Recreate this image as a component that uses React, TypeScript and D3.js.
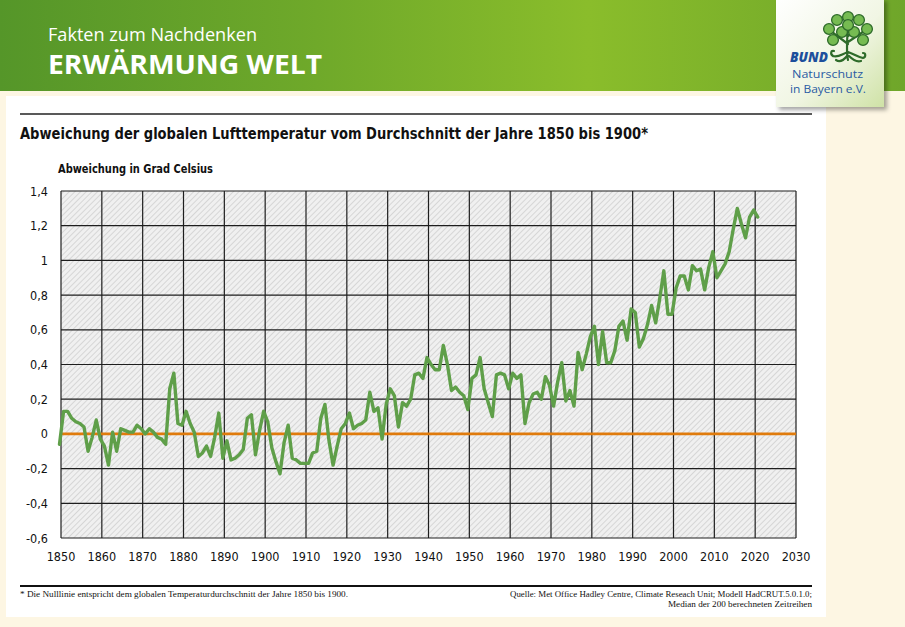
import React from "react";
import * as d3 from "d3";

const startYear = 1850;
const anomalies: number[] = [
  -0.06, 0.13, 0.13, 0.09, 0.07, 0.06, 0.04, -0.10, -0.02, 0.08,
  -0.03, -0.07, -0.18, 0.01, -0.10, 0.03, 0.02, 0.01, 0.01, 0.05,
  0.03, 0.00, 0.03, 0.01, -0.02, -0.03, -0.06, 0.26, 0.35, 0.06,
  0.05, 0.13, 0.06, 0.01, -0.13, -0.11, -0.07, -0.13, -0.02, 0.12,
  -0.14, -0.04, -0.15, -0.14, -0.12, -0.09, 0.09, 0.11, -0.12, 0.02,
  0.13, 0.07, -0.08, -0.16, -0.23, -0.05, 0.05, -0.14, -0.15, -0.17,
  -0.17, -0.17, -0.11, -0.10, 0.09, 0.17, -0.04, -0.18, -0.07, 0.03,
  0.06, 0.12, 0.03, 0.05, 0.06, 0.08, 0.24, 0.13, 0.15, -0.03,
  0.17, 0.26, 0.22, 0.04, 0.18, 0.16, 0.20, 0.34, 0.35, 0.32,
  0.44, 0.40, 0.37, 0.37, 0.51, 0.40, 0.25, 0.27, 0.24, 0.22,
  0.14, 0.32, 0.34, 0.44, 0.26, 0.18, 0.10, 0.34, 0.35, 0.34,
  0.26, 0.35, 0.32, 0.34, 0.06, 0.18, 0.23, 0.24, 0.20, 0.33,
  0.28, 0.16, 0.30, 0.41, 0.19, 0.25, 0.16, 0.47, 0.37, 0.46,
  0.56, 0.62, 0.40, 0.59, 0.41, 0.41, 0.48, 0.62, 0.65, 0.54,
  0.72, 0.70, 0.50, 0.55, 0.63, 0.74, 0.64, 0.78, 0.94, 0.69,
  0.69, 0.84, 0.91, 0.91, 0.83, 0.97, 0.94, 0.95, 0.83, 0.96,
  1.05, 0.90, 0.94, 0.98, 1.05, 1.18, 1.30, 1.21, 1.13, 1.25,
  1.29, 1.25,
];
const xTicks = [1850, 1860, 1870, 1880, 1890, 1900, 1910, 1920, 1930, 1940, 1950, 1960, 1970, 1980, 1990, 2000, 2010, 2020, 2030];
const yTicks = [-0.6, -0.4, -0.2, 0, 0.2, 0.4, 0.6, 0.8, 1, 1.2, 1.4];

const headerKicker = "Fakten zum Nachdenken";
const headerTitle = "ERWÄRMUNG WELT";
const chartTitle = "Abweichung der globalen Lufttemperatur vom Durchschnitt der Jahre 1850 bis 1900*";
const yAxisTitle = "Abweichung in Grad Celsius";
const footnote = "* Die Nulllinie entspricht dem globalen Temperaturdurchschnitt der Jahre 1850 bis 1900.";
const source1 = "Quelle: Met Office Hadley Centre, Climate Reseach Unit; Modell HadCRUT.5.0.1.0;";
const source2 = "Median der 200 berechneten Zeitreihen";
const logoLines = ["BUND", "Naturschutz", "in Bayern e.V."];

const W = 905;
const H = 627;
const plot = { left: 61, right: 796, top: 191, bottom: 538 };
const narrow = "'Liberation Sans Narrow', 'DejaVu Sans Condensed', Roboto, sans-serif";
const serifNarrow = "'Liberation Serif', 'DejaVu Serif Condensed', serif";

const leaves: [number, number][] = [
  [848, 17], [837, 20], [859, 20], [829, 29], [867, 29], [833, 40], [863, 40], [842, 32], [854, 32], [848, 25],
];

export default function App() {
  const x = d3.scaleLinear().domain([1850, 2030]).range([plot.left, plot.right]);
  const y = d3.scaleLinear().domain([-0.6, 1.4]).range([plot.bottom, plot.top]);
  const data = anomalies.map((v, i) => ({ year: startYear + i, v }));
  const line = d3
    .line<{ year: number; v: number }>()
    .x((d) => x(d.year) - 1.5)
    .y((d) => y(d.v));

  const fmt = (v: number) => (Math.abs(v) < 1e-9 ? "0" : String(+v.toFixed(1)).replace(".", ","));

  return (
    <svg width={W} height={H} style={{ position: "absolute", left: 0, top: 0 }}>
      <defs>
        <linearGradient id="hdr" x1="0" x2="1" y1="0" y2="0">
          <stop offset="0%" stopColor="#559629" />
          <stop offset="35%" stopColor="#6fa92a" />
          <stop offset="65%" stopColor="#8abd2b" />
          <stop offset="100%" stopColor="#6fa62a" />
        </linearGradient>
        <linearGradient id="logo" x1="0" x2="1" y1="0" y2="1">
          <stop offset="0%" stopColor="#ffffff" />
          <stop offset="55%" stopColor="#f1f6e4" />
          <stop offset="100%" stopColor="#cfe2a6" />
        </linearGradient>
        <pattern id="hatch" width="4" height="4" patternUnits="userSpaceOnUse" patternTransform="rotate(45)">
          <rect width="4" height="4" fill="#f0f0f0" />
          <line x1="0" y1="0" x2="0" y2="4" stroke="#c9c9c9" strokeWidth="1.3" />
        </pattern>
        <filter id="shadow" x="-20%" y="-20%" width="150%" height="150%">
          <feDropShadow dx="3" dy="3" stdDeviation="2" floodColor="#000" floodOpacity="0.35" />
        </filter>
      </defs>

      {/* page background */}
      <rect x={0} y={0} width={W} height={H} fill="#fdf6e3" />
      {/* header */}
      <rect x={0} y={0} width={W} height={91} fill="url(#hdr)" />
      <text x={48} y={41} fill="#fff" fontFamily="'Open Sans', sans-serif" fontSize={18} textLength={209} lengthAdjust="spacingAndGlyphs">
        {headerKicker}
      </text>
      <text x={48} y={74} fill="#fff" fontFamily="'Open Sans', sans-serif" fontWeight={700} fontSize={27} textLength={274} lengthAdjust="spacingAndGlyphs">
        {headerTitle}
      </text>

      {/* white panel */}
      <rect x={6} y={96} width={820} height={521} fill="#ffffff" />

      {/* logo */}
      <g filter="url(#shadow)">
        <rect x={776} y={-2} width={108} height={109} fill="url(#logo)" />
      </g>
      <g>
        <path
          d="M848 60 C846 52 847 42 848 26 M848 52 C842 54 838 58 833 56 M833 56 C830 54 831 50 834 51 M848 52 C854 54 858 57 863 58 M863 58 C866 57 866 53 863 53 M847 56 C843 61 839 62 836 60 M849 56 C854 61 858 62 861 61 M848 44 L836 35 M848 42 L860 34 M836 35 L830 30 M860 34 L867 29 M848 36 L841 31 M848 36 L855 31"
          stroke="#2e6b2a" strokeWidth={2.2} fill="none" strokeLinecap="round" />
        {leaves.map(([cx, cy], i) => (
          <circle key={i} cx={cx} cy={cy} r={5.4} fill="#76bb52" stroke="#2e6b2a" strokeWidth={1.3} />
        ))}
      </g>
      <text x={790} y={62} fill="#1d4f9c" fontFamily="'Open Sans', sans-serif" fontWeight={800} fontStyle="italic" fontSize={13.5}>
        {logoLines[0]}
      </text>
      <text x={792} y={78} fill="#2a5ba3" fontFamily="'Open Sans', sans-serif" fontSize={11.5} textLength={71} lengthAdjust="spacingAndGlyphs">
        {logoLines[1]}
      </text>
      <text x={790} y={93} fill="#2a5ba3" fontFamily="'Open Sans', sans-serif" fontSize={11.5} textLength={76} lengthAdjust="spacingAndGlyphs">
        {logoLines[2]}
      </text>

      {/* title */}
      <line x1={20} x2={812} y1={114} y2={114} stroke="#222" strokeWidth={1.6} />
      <text x={20} y={139} fill="#111" fontFamily={narrow} fontWeight={700} fontSize={16} textLength={628} lengthAdjust="spacingAndGlyphs">
        {chartTitle}
      </text>
      <text x={58} y={173} fill="#111" fontFamily={narrow} fontWeight={700} fontSize={12} textLength={155} lengthAdjust="spacingAndGlyphs">
        {yAxisTitle}
      </text>

      {/* plot background */}
      <rect x={plot.left} y={plot.top} width={plot.right - plot.left} height={plot.bottom - plot.top} fill="url(#hatch)" />

      {/* grid */}
      {yTicks.map((t) => (
        <line key={"h" + t} x1={plot.left} x2={plot.right} y1={y(t)} y2={y(t)} stroke="#1e1e1e" strokeWidth={1.2} />
      ))}
      {xTicks.map((t) => (
        <line key={"v" + t} x1={x(t)} x2={x(t)} y1={plot.top} y2={plot.bottom} stroke="#1e1e1e" strokeWidth={1.2} />
      ))}

      {/* zero line */}
      <line x1={plot.left} x2={plot.right} y1={y(0)} y2={y(0)} stroke="#e07b0c" strokeWidth={2.6} />

      {/* data */}
      <path d={line(data) || ""} fill="none" stroke="#5f9f49" strokeWidth={3.4} strokeLinejoin="round" strokeLinecap="round" />

      {/* y tick labels */}
      {yTicks.map((t) => (
        <text key={"yl" + t} x={48} y={y(t) + 4.5} textAnchor="end" fill="#111" fontFamily={narrow} fontSize={12.5}>
          {fmt(t)}
        </text>
      ))}
      {/* x tick labels */}
      {xTicks.map((t) => (
        <text key={"xl" + t} x={x(t)} y={561} textAnchor="middle" fill="#111" fontFamily={narrow} fontSize={12.5}>
          {t}
        </text>
      ))}

      {/* footer */}
      <line x1={20} x2={812} y1={586} y2={586} stroke="#111" strokeWidth={2} />
      <text x={20} y={597} fill="#111" fontFamily={serifNarrow} fontSize={8.5} textLength={328} lengthAdjust="spacingAndGlyphs">
        {footnote}
      </text>
      <text x={812} y={597} textAnchor="end" fill="#111" fontFamily={serifNarrow} fontSize={8.5} textLength={302} lengthAdjust="spacingAndGlyphs">
        {source1}
      </text>
      <text x={812} y={607} textAnchor="end" fill="#111" fontFamily={serifNarrow} fontSize={8.5} textLength={144} lengthAdjust="spacingAndGlyphs">
        {source2}
      </text>
    </svg>
  );
}
